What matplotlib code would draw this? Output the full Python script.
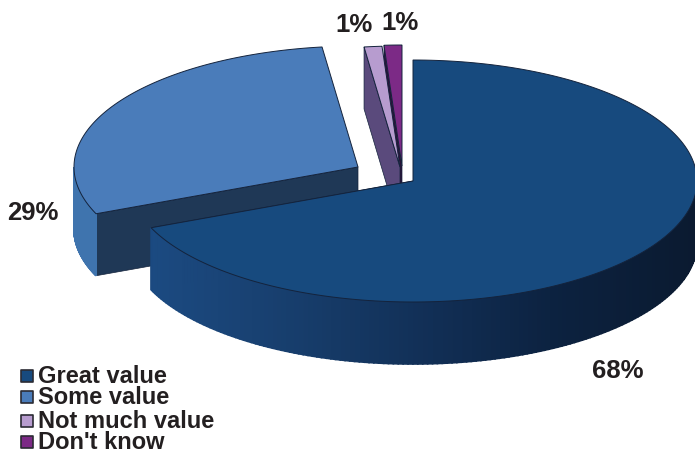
import numpy as np
import matplotlib
matplotlib.use('Agg')
import matplotlib.pyplot as plt
from matplotlib.colors import LinearSegmentedColormap

plt.rcParams['font.family'] = ['Liberation Sans', 'DejaVu Sans']

# data
categories = ['Great value', 'Some value', 'Not much value', "Don't know"]
values = [68, 29, 1, 1]
pct_labels = ['68%', '29%', '1%', '1%']

# style
top_colors = ['#174a7e', '#4a7cba', '#b79ccf', '#7c2a86']
side_colors = ['#1f3856', '#1f3856', '#5a4a7c', '#2a1238']
centers = [(413, 181), (358, 167), (400, 167), (402, 166)]
label_pos = [(618, 378), (33, 220), (354, 32), (400, 30)]
legend_y = [376, 397, 421, 442]
rx, ry, depth = 284, 121, 62
line = '#14233c'
text_color = '#231f20'

fig = plt.figure(figsize=(6.95, 4.5), dpi=100)
ax = fig.add_axes([0, 0, 1, 1])
ax.set_xlim(0, 695)
ax.set_ylim(450, 0)
ax.axis('off')

# angles clockwise from the top
angles = np.concatenate([[0], np.cumsum(values) / sum(values) * 2 * np.pi])


def arc(c, a0, a1, n=200):
    t = np.linspace(a0, a1, n)
    return c[0] + rx * np.sin(t), c[1] - ry * np.cos(t)


def outer_wall(c, a0, a1, cmap, z):
    a0, a1 = max(a0, np.pi / 2), min(a1, 3 * np.pi / 2)
    if a1 <= a0:
        return
    x, y = arc(c, a0, a1, 160)
    for i in range(len(x) - 1):
        col = cmap((x[i] - (c[0] - rx)) / (2 * rx))
        ax.fill([x[i], x[i + 1], x[i + 1], x[i]],
                [y[i], y[i + 1], y[i + 1] + depth, y[i] + depth],
                color=col, lw=1.2, zorder=z)


def draw_slice(i, z, cmap=None):
    c = centers[i]
    a0, a1 = angles[i], angles[i + 1]
    # cut face that looks towards the viewer
    edge = a1 if i == 0 else a0
    ex, ey = arc(c, edge, edge, 1)
    ax.fill([c[0], ex[0], ex[0], c[0]],
            [c[1], ey[0], ey[0] + depth, c[1] + depth],
            color=side_colors[i], ec=line, lw=0.5, zorder=z)
    if cmap is not None:
        outer_wall(c, a0, a1, cmap, z + 0.1)
    x, y = arc(c, a0, a1)
    ax.fill(np.r_[c[0], x], np.r_[c[1], y], color=top_colors[i],
            ec=line, lw=0.7, zorder=z + 0.2)


great_wall = LinearSegmentedColormap.from_list(
    'great', [(0, '#1c4c84'), (0.25, '#184070'), (0.55, '#112e54'),
              (0.75, '#0c2240'), (1, '#0b1a30')])
some_wall = LinearSegmentedColormap.from_list('some', ['#3f74ae', '#4a7cba'])

draw_slice(1, 1, some_wall)
draw_slice(3, 2)
draw_slice(2, 3)
draw_slice(0, 4, great_wall)

for lab, (x, y) in zip(pct_labels, label_pos):
    ax.text(x, y, lab, ha='center', va='baseline', fontsize=18.5,
            fontweight='bold', color=text_color)

# legend
for name, col, y in zip(categories, top_colors, legend_y):
    ax.scatter([27], [y], marker='s', s=70, color=col, edgecolors='#2b2b33',
               linewidths=1.2, zorder=6)
    ax.text(38, y + 7, name, ha='left', va='baseline', fontsize=17,
            fontweight='bold', color=text_color)

fig.savefig('out.png', dpi=100)
